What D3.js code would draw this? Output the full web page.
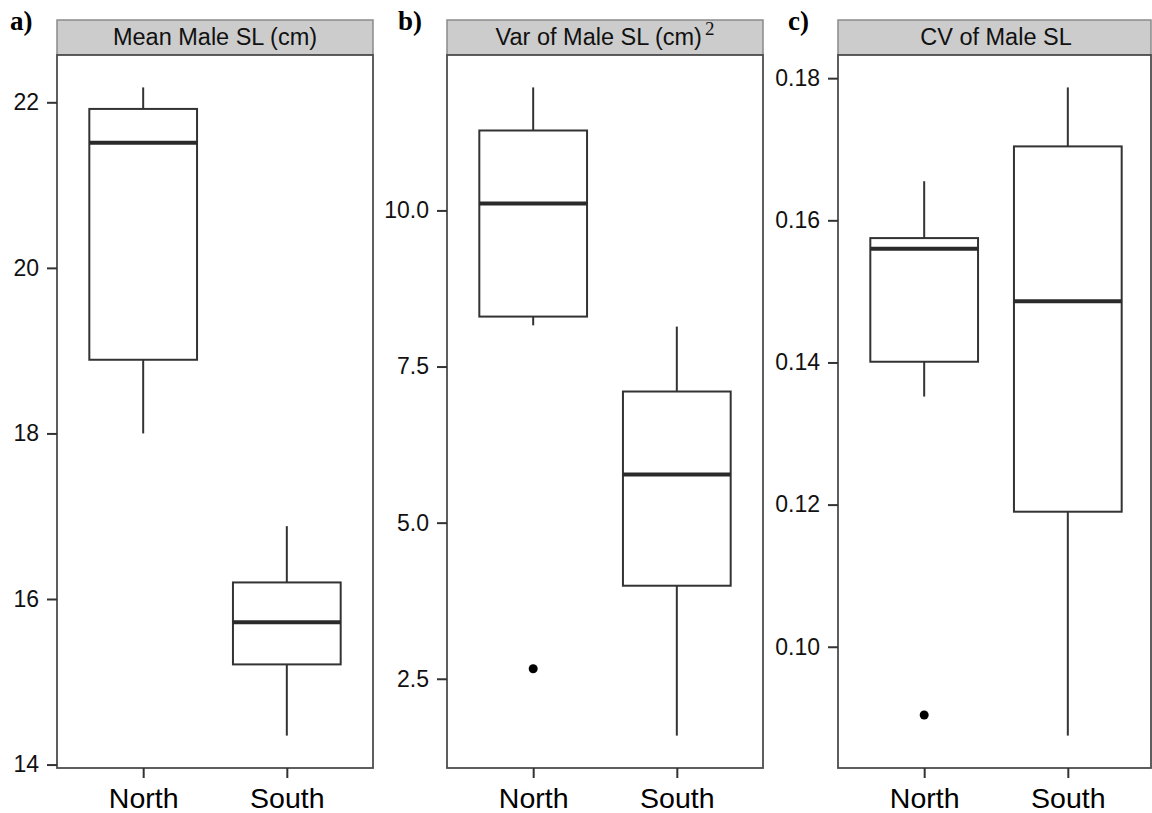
<!DOCTYPE html>
<html>
<head>
<meta charset="utf-8">
<script src="https://cdn.jsdelivr.net/npm/d3@7"></script>
<style>
  body { margin: 0; background: #fff; }
  svg { display: block; }
</style>
</head>
<body>
<svg id="chart" width="1152" height="813"></svg>
<script>
// Regions compared in every panel
const regions = ["North", "South"];

// Five-number summaries per region: [lower whisker, Q1, median, Q3, upper whisker]
const meanSL = [[18.00, 18.89, 21.51, 21.92, 22.18], [14.35, 15.21, 15.72, 16.20, 16.88]];
const meanSLOutliers = [[], []];

const varSL = [[8.16, 8.30, 10.11, 11.28, 11.97], [1.59, 3.99, 5.77, 7.10, 8.14]];
const varSLOutliers = [[2.66], []];

const cvSL = [[0.1352, 0.1401, 0.1560, 0.1575, 0.1655], [0.0875, 0.1190, 0.1486, 0.1704, 0.1787]];
const cvSLOutliers = [[0.0904], []];

// Tick values for each panel's y axis
const meanTicks = [14, 16, 18, 20, 22];
const varTicks = [2.5, 5, 7.5, 10];
const cvTicks = [0.10, 0.12, 0.14, 0.16, 0.18];

const W = 1152, H = 813;
const stripTop = 20, plotTop = 55, plotBottom = 768;
const panelWidth = 316;
const sansFont = "'Liberation Sans', Arial, Helvetica, sans-serif";
const serifFont = "'Liberation Serif', 'Times New Roman', serif";

const panels = [
  { tag: "a)", tagX: 10, left: 57, title: "Mean Male SL (cm)", stats: meanSL, outliers: meanSLOutliers, ticks: meanTicks, fmt: d3.format("d") },
  { tag: "b)", tagX: 398, left: 447, title: "Var of Male SL (cm)", sup: "2", stats: varSL, outliers: varSLOutliers, ticks: varTicks, fmt: d3.format(".1f") },
  { tag: "c)", tagX: 788, left: 838, title: "CV of Male SL", stats: cvSL, outliers: cvSLOutliers, ticks: cvTicks, fmt: d3.format(".2f") }
];

const svg = d3.select("#chart");

panels.forEach(p => {
  const g = svg.append("g");
  const right = p.left + panelWidth;
  const visibleRight = Math.min(right, W - 1);

  // y scale: data extent expanded by 5% on each side
  const allVals = p.stats.flat().concat(p.outliers.flat());
  const [lo, hi] = d3.extent(allVals);
  const pad = (hi - lo) * 0.05;
  const y = d3.scaleLinear().domain([lo - pad, hi + pad]).range([plotBottom, plotTop]);

  // x scale: discrete regions with ggplot-like outer spacing
  const x = d3.scalePoint().domain(regions).range([p.left, right]).padding(0.6);
  const boxW = x.step() * 0.75;

  // panel tag
  g.append("text")
    .attr("x", p.tagX).attr("y", 30)
    .attr("font-family", serifFont).attr("font-weight", "bold")
    .attr("font-size", 27).attr("fill", "#000")
    .text(p.tag);

  // strip header
  g.append("rect")
    .attr("x", p.left).attr("y", stripTop)
    .attr("width", visibleRight - p.left).attr("height", plotTop - stripTop)
    .attr("fill", "#cccccc").attr("stroke", "#8a8a8a").attr("stroke-width", 1.5);

  const title = g.append("text")
    .attr("x", p.left + panelWidth / 2).attr("y", 45)
    .attr("text-anchor", "middle")
    .attr("font-family", sansFont).attr("font-size", 23.5).attr("fill", "#111");
  title.append("tspan").text(p.title);
  if (p.sup) {
    title.append("tspan").attr("dx", 3).attr("dy", -10)
      .attr("font-family", serifFont).attr("font-size", 19).text(p.sup);
  }

  // panel background and border
  g.append("rect")
    .attr("x", p.left).attr("y", plotTop)
    .attr("width", visibleRight - p.left).attr("height", plotBottom - plotTop)
    .attr("fill", "#fff").attr("stroke", "#4d4d4d").attr("stroke-width", 1.8);

  // axes
  const yAxis = d3.axisLeft(y).tickValues(p.ticks).tickFormat(p.fmt).tickSize(10).tickPadding(8);
  const ya = g.append("g").attr("transform", `translate(${p.left},0)`).call(yAxis);
  ya.select(".domain").remove();
  ya.selectAll(".tick line").attr("stroke", "#333").attr("stroke-width", 2);
  ya.selectAll(".tick text").attr("font-family", sansFont).attr("font-size", 23).attr("fill", "#111");

  const xAxis = d3.axisBottom(x).tickSize(10).tickPadding(10);
  const xa = g.append("g").attr("transform", `translate(0,${plotBottom})`).call(xAxis);
  xa.select(".domain").remove();
  xa.selectAll(".tick line").attr("stroke", "#333").attr("stroke-width", 2);
  xa.selectAll(".tick text").attr("font-family", sansFont).attr("font-size", 28.5).attr("fill", "#000");

  // box plots
  const boxes = g.selectAll("g.box").data(regions.map((r, i) => ({ region: r, s: p.stats[i], out: p.outliers[i] })))
    .join("g").attr("class", "box");

  boxes.append("line")
    .attr("x1", d => x(d.region)).attr("x2", d => x(d.region))
    .attr("y1", d => y(d.s[0])).attr("y2", d => y(d.s[1]))
    .attr("stroke", "#333").attr("stroke-width", 2);
  boxes.append("line")
    .attr("x1", d => x(d.region)).attr("x2", d => x(d.region))
    .attr("y1", d => y(d.s[3])).attr("y2", d => y(d.s[4]))
    .attr("stroke", "#333").attr("stroke-width", 2);
  boxes.append("rect")
    .attr("x", d => x(d.region) - boxW / 2).attr("width", boxW)
    .attr("y", d => y(d.s[3])).attr("height", d => y(d.s[1]) - y(d.s[3]))
    .attr("fill", "#fff").attr("stroke", "#333").attr("stroke-width", 2);
  boxes.append("line")
    .attr("x1", d => x(d.region) - boxW / 2).attr("x2", d => x(d.region) + boxW / 2)
    .attr("y1", d => y(d.s[2])).attr("y2", d => y(d.s[2]))
    .attr("stroke", "#2a2a2a").attr("stroke-width", 4);
  boxes.selectAll("circle").data(d => d.out.map(v => ({ region: d.region, v })))
    .join("circle")
    .attr("cx", d => x(d.region)).attr("cy", d => y(d.v)).attr("r", 4.5)
    .attr("fill", "#000");
});
</script>
</body>
</html>
